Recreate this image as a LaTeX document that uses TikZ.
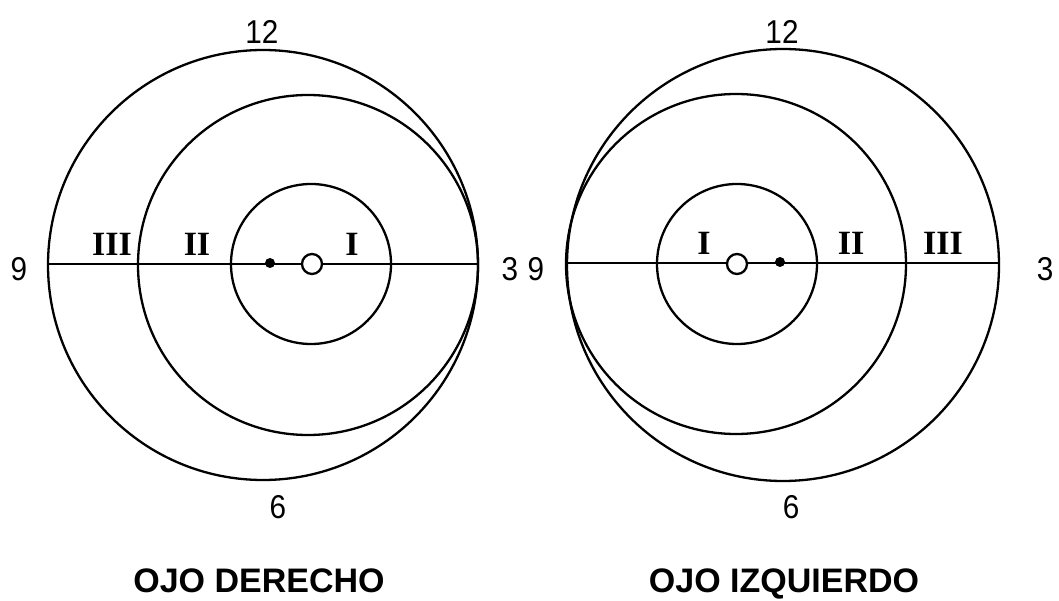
\documentclass[tikz,border=0pt]{standalone}
\usepackage{fontspec}
\setmainfont{Liberation Serif}
\setsansfont{Liberation Sans}
\usetikzlibrary{positioning}
\tikzset{
  ring/.style={draw=black, line width=2.3pt},
  hourlbl/.style={font=\fontsize{33}{33}\selectfont\sffamily, inner sep=0pt, xscale=0.9},
  zonelbl/.style={font=\fontsize{34}{34}\selectfont\bfseries, inner sep=0pt},
  eyelbl/.style={font=\fontsize{34}{34}\selectfont\sffamily\bfseries, inner sep=0pt, anchor=base},
  axis/.style={draw=black, line width=2.5pt},
}

\begin{document}
\begin{tikzpicture}[x=1pt, y=-1pt]
  \useasboundingbox (0,0) rectangle (1059,601);
  % ojo derecho
  \draw[ring] (263,265) circle[radius=215pt];
  \draw[ring] (308,265) circle[radius=170pt];
  \draw[ring] (311,264) circle[radius=80pt];
  \coordinate (dl) at (48,264);
  \coordinate (dr) at (478,264);
  \draw[axis] (dl) -- (dr);
  \fill (270,263) circle[radius=5pt];
  \draw[line width=2.3pt, fill=white] (312,264) circle[radius=10pt];
  \node[hourlbl] (d12) at (262,32) {12};
  \node[hourlbl] (d6)  at (278,507) {6};
  \node[hourlbl] (d9)  at (19,269) {9};
  \node[hourlbl] (d3)  at (510,269) {3};
  \node[zonelbl] (d3z) at (112,244) {III};
  \node[zonelbl] (d2z) at (197,244) {II};
  \node[zonelbl] (d1z) at (352,244) {I};
  \node[eyelbl]  (der) at (259,592) {OJO DERECHO};
  % ojo izquierdo
  \draw[ring] (783,265) circle[radius=216pt];
  \draw[ring] (736,264) circle[radius=170pt];
  \draw[ring] (737,264) circle[radius=80pt];
  \coordinate (il) at (567,263);
  \coordinate (ir) at (999,263);
  \draw[axis] (il) -- (ir);
  \fill (780,262) circle[radius=5pt];
  \draw[line width=2.3pt, fill=white] (737,264) circle[radius=10pt];
  \node[hourlbl] (i12) at (782,32) {12};
  \node[hourlbl] (i6)  at (791,507) {6};
  \node[hourlbl] (i9)  at (536,269) {9};
  \node[hourlbl] (i3)  at (1045,269) {3};
  \node[zonelbl] (i1z) at (704,243) {I};
  \node[zonelbl] (i2z) at (851,243) {II};
  \node[zonelbl] (i3z) at (943,243) {III};
  \node[eyelbl]  (izq) at (784,592) {OJO IZQUIERDO};
\end{tikzpicture}
\end{document}
